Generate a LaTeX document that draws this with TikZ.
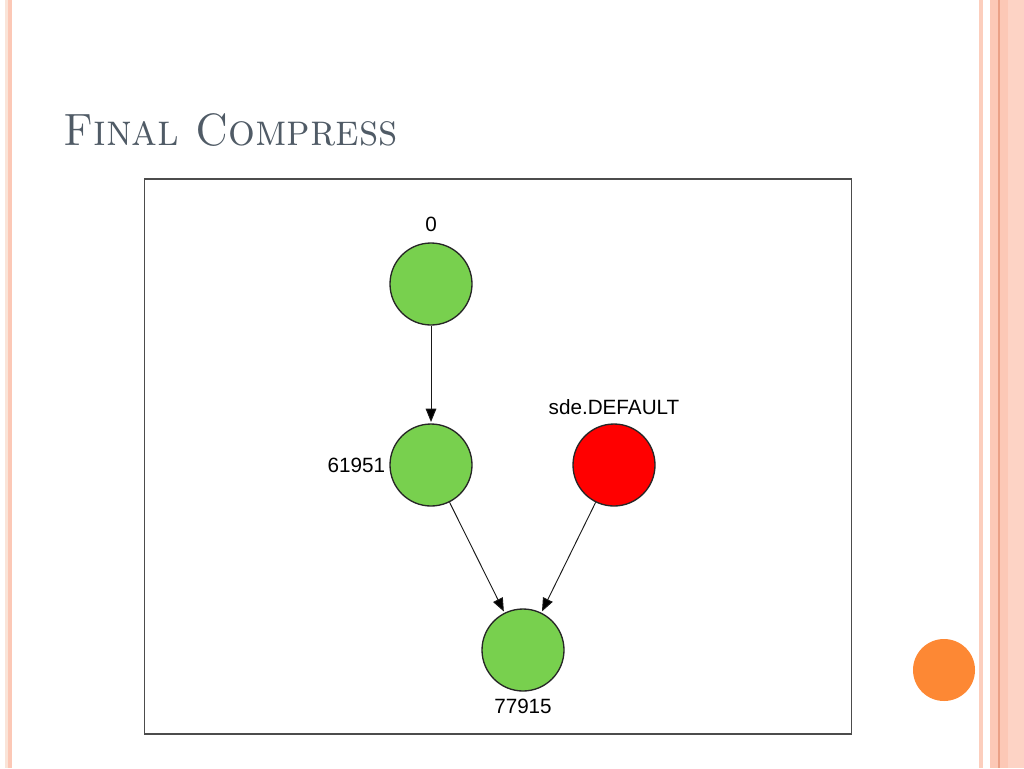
\documentclass[tikz,border=0pt]{standalone}
\usepackage{fontspec}
\newfontfamily\arialfont{Liberation Sans}
\usetikzlibrary{arrows.meta, positioning}
\definecolor{nodegreen}{RGB}{120,208,78}
\definecolor{titlegray}{RGB}{80,91,102}
\definecolor{salmon}{RGB}{252,200,182}
\definecolor{salmonpale}{RGB}{250,228,216}
\definecolor{salmondark}{RGB}{234,160,134}
\definecolor{dotorange}{RGB}{253,136,52}

\begin{document}
\begin{tikzpicture}[x=0.75pt,y=-0.75pt,>={Triangle[length=10pt,width=8pt]},
      shorten >=1pt,
      every node/.style={font=\arialfont\fontsize{15.5}{17}\selectfont},
      vertex/.style={circle,draw=black!85,line width=1pt,minimum size=61.5pt,inner sep=0pt},
      lbl/.style={inner sep=0pt,text=black},
      link/.style={->,draw=black!90,line width=0.7pt}]
      \useasboundingbox (0,0) rectangle (1024,768);
      % slide decoration
      \fill[salmonpale] (5,0) rectangle (8,768);
      \fill[salmon] (8,0) rectangle (12,768);
      \fill[salmon!90!white] (979,0) rectangle (983,768);
      \fill[salmon] (990,0) rectangle (1008,768);
      \fill[salmondark] (998,0) rectangle (999.5,768);
      \fill[salmon!80!white] (1008,0) rectangle (1024,768);
      \fill[dotorange] (944,670) circle (31);
      \node[anchor=base west,inner sep=0pt,text=titlegray,
            font=\fontsize{34}{40}\selectfont\scshape] (title) at (63,145)
            {\scalebox{0.93}[1]{Final Compress}};
      % graph panel
      \draw[black!70,line width=1.1pt] (144.5,179) rectangle (851.5,734);
      \node[vertex,fill=nodegreen] (n0) at (431,284) {};
      \node[vertex,fill=nodegreen] (n61951) [below=135.75pt of n0.center,anchor=center] {};
      \node[vertex,fill=red] (ndefault) [right=137.25pt of n61951.center,anchor=center] {};
      \node[vertex,fill=nodegreen] (n77915) at (523,650) {};
      \node[lbl,above=8pt of n0] (l0) {0};
      \node[lbl,left=3pt of n61951] (l61951) {61951};
      \node[lbl,above=6.5pt of ndefault] (ldefault) {sde.DEFAULT};
      \node[lbl,below=5pt of n77915] (l77915) {77915};
      \path[link]
      (n0) edge (n61951)
      (n61951) edge (n77915)
      (ndefault) edge (n77915);
    \end{tikzpicture}
\end{document}
